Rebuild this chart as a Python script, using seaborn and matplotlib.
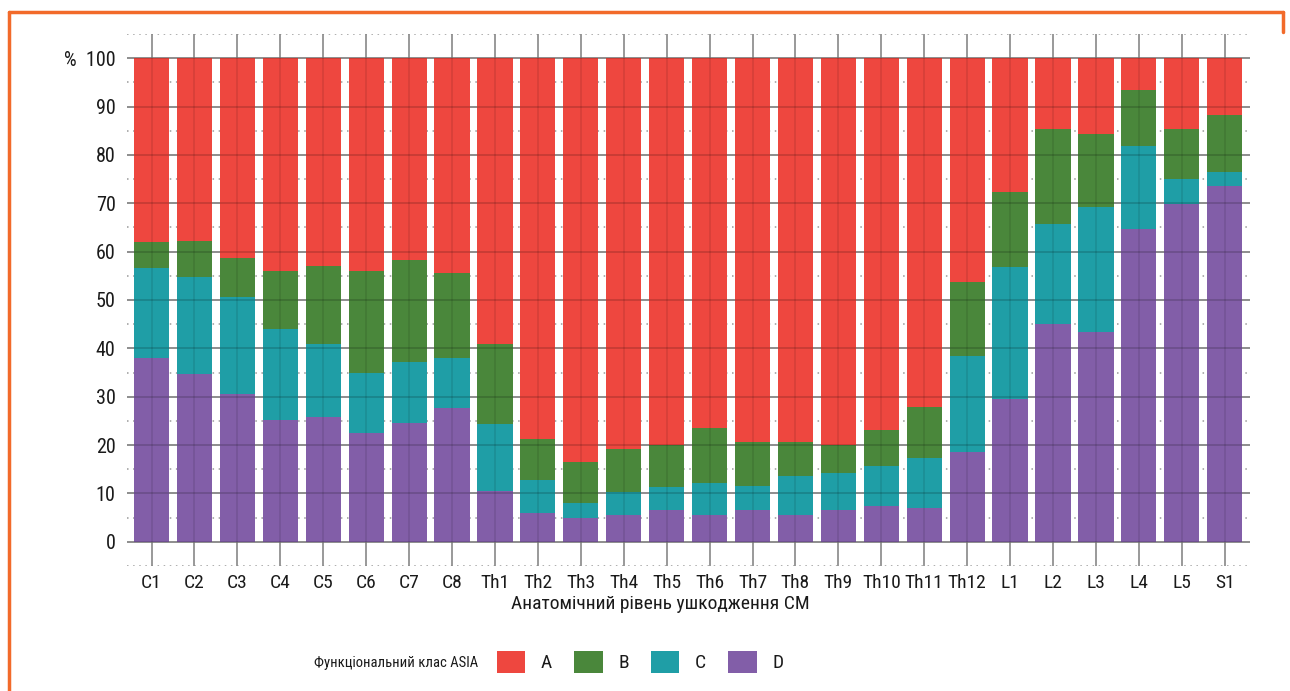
import numpy as np
import pandas as pd
import matplotlib
matplotlib.use("Agg")
import matplotlib.pyplot as plt
from matplotlib.patches import Patch
from matplotlib.lines import Line2D
import seaborn as sns

categories = ["C1", "C2", "C3", "C4", "C5", "C6", "C7", "C8",
              "Th1", "Th2", "Th3", "Th4", "Th5", "Th6", "Th7", "Th8", "Th9", "Th10", "Th11", "Th12",
              "L1", "L2", "L3", "L4", "L5", "S1"]
class_d = [38.0, 34.8, 30.5, 25.1, 25.9, 22.6, 24.6, 27.6,
           10.6, 6.0, 5.0, 5.6, 6.5, 5.6, 6.5, 5.6, 6.6, 7.5, 7.0, 18.6,
           29.5, 45.0, 43.4, 64.7, 69.8, 73.6]
class_c = [18.7, 20.0, 20.1, 19.0, 15.1, 12.4, 12.5, 10.5,
           13.7, 6.7, 3.1, 4.7, 4.8, 6.6, 5.1, 8.0, 7.7, 8.2, 10.3, 19.8,
           27.3, 20.7, 25.9, 17.2, 5.2, 2.8]
class_b = [5.2, 7.3, 8.1, 11.9, 16.0, 21.0, 21.1, 17.5,
           16.6, 8.5, 8.3, 8.9, 8.7, 11.4, 9.1, 7.1, 5.7, 7.5, 10.6, 15.4,
           15.6, 19.7, 15.1, 11.5, 10.4, 11.8]
class_a = [38.1, 37.9, 41.3, 44.0, 43.0, 44.0, 41.8, 44.4,
           59.1, 78.8, 83.6, 80.8, 80.0, 76.4, 79.3, 79.3, 80.0, 76.8, 72.1, 46.2,
           27.6, 14.6, 15.6, 6.6, 14.6, 11.8]
class_labels = ["A", "B", "C", "D"]
colors = {"A": "#EE473F", "B": "#4A873B", "C": "#1F9EA6", "D": "#825EA8"}
y_ticks = list(range(0, 101, 10))

sns.set_theme(style="white")
plt.rcParams["font.family"] = ["Roboto Condensed", "Liberation Sans Narrow", "Liberation Sans", "DejaVu Sans"]

df = pd.DataFrame({"level": categories, "A": class_a, "B": class_b, "C": class_c, "D": class_d})
# cumulative tops, stacking D at the bottom, then C, B, A
df["top_D"] = df["D"]
df["top_C"] = df["top_D"] + df["C"]
df["top_B"] = df["top_C"] + df["B"]
df["top_A"] = df["top_B"] + df["A"]

fig = plt.figure(figsize=(12.9, 6.91), dpi=100)
ax = fig.add_axes([0.0982, 0.1809, 0.8708, 0.7699])

grid_col = "#9a9a9a"
# underlying grid
for v in y_ticks:
    ax.axhline(v, color=grid_col, lw=1.2, zorder=0)
for v in list(range(-5, 106, 10)):
    ax.axhline(v, color=grid_col, lw=1.1, ls=(0, (1, 3)), zorder=0)
for i in range(len(categories)):
    ax.axvline(i, color=grid_col, lw=1.2, zorder=0)

for cls in ["A", "B", "C", "D"]:
    sns.barplot(data=df, x="level", y=f"top_{cls}", order=categories, color=colors[cls],
                saturation=1, width=0.82, ax=ax, zorder=2, linewidth=0, errorbar=None)

# faint grid visible through bars
for v in y_ticks:
    ax.axhline(v, color="black", alpha=0.18, lw=1.2, zorder=3)
for i in range(len(categories)):
    ax.axvline(i, color="black", alpha=0.10, lw=1.2, zorder=3)

ax.set_xlim(-0.58, len(categories) - 1 + 0.59)
ax.set_ylim(-5, 105)
ax.set_yticks(y_ticks)
ax.set_yticklabels([str(t) if t < 100 else "%  100" for t in y_ticks])
ax.tick_params(axis="y", length=0, pad=8, labelsize=14.5, labelcolor="#1a1a1a")
ax.tick_params(axis="x", length=0, pad=6, labelsize=14, labelcolor="#1a1a1a")
ax.set_xlabel("")
ax.set_ylabel("")
for s in ax.spines.values():
    s.set_visible(False)
ax.set_facecolor("none")

fig.text(660 / 1290, 1 - 604 / 691, "Анатомічний рівень ушкодження СМ",
         ha="center", va="center", fontsize=14, color="#1a1a1a")
fig.text(478 / 1290, 1 - 663 / 691, "Функціональний клас ASIA",
         ha="right", va="center", fontsize=10.5, color="#1a1a1a")
handles = [Patch(facecolor=colors[c], edgecolor="none", label=c) for c in class_labels]
fig.legend(handles=handles, loc="center left", bbox_to_anchor=(497 / 1290, 1 - 662 / 691),
           ncol=4, frameon=False, fontsize=14, handlelength=1.45, handleheight=1.35,
           handletextpad=0.8, columnspacing=1.15, borderpad=0, borderaxespad=0,
           labelcolor="#1a1a1a")

# orange frame
orange = "#F26A2A"
fig.add_artist(Line2D([9 / 1290, 1283 / 1290], [1 - 12 / 691, 1 - 12 / 691], color=orange, lw=2.5))
fig.add_artist(Line2D([9 / 1290, 9 / 1290], [1 - 12 / 691, 0], color=orange, lw=2.5))
fig.add_artist(Line2D([1283 / 1290, 1283 / 1290], [1 - 12 / 691, 1 - 32 / 691], color=orange, lw=2.5))

fig.savefig("out.png", dpi=100)
